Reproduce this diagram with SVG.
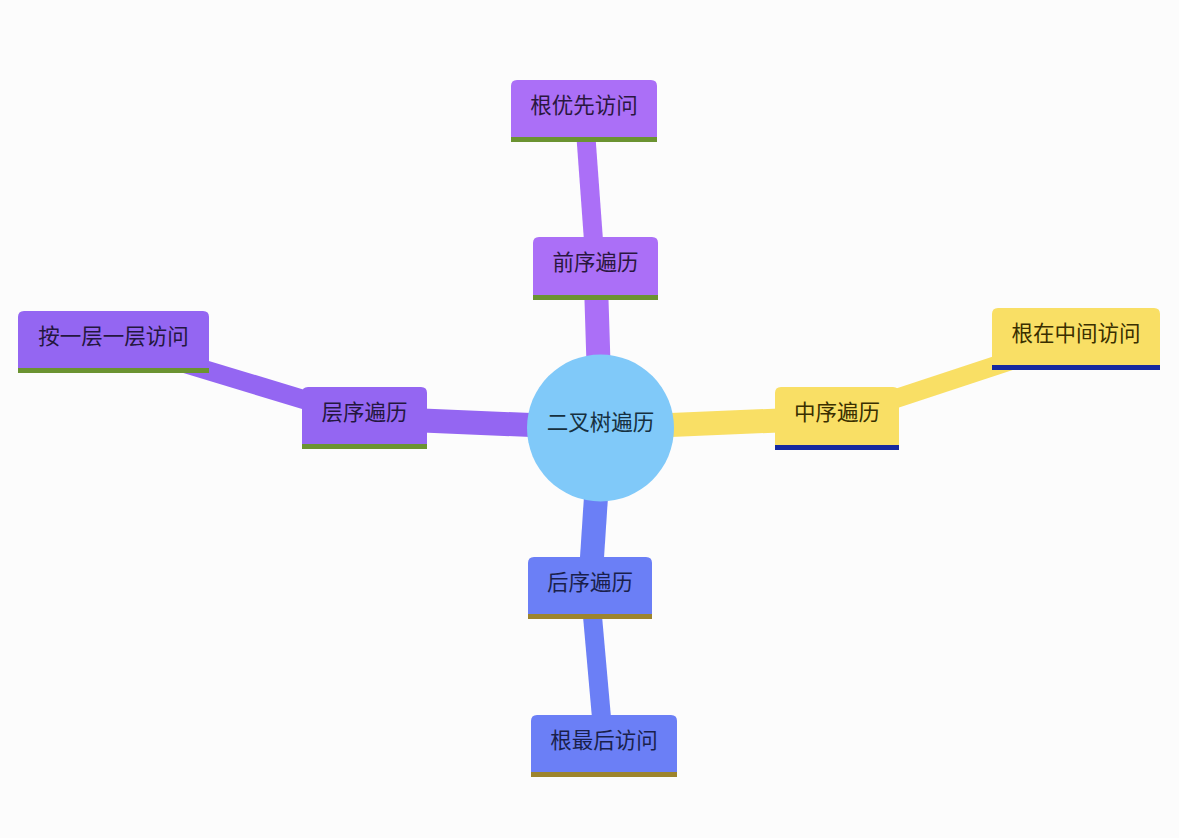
<svg xmlns="http://www.w3.org/2000/svg" width="1179" height="838" viewBox="0 0 1179 838">
<style>
.t{font-family:"Noto Sans CJK SC","Noto Sans",sans-serif;font-size:21.5px;text-anchor:middle}
.e{fill:none;stroke-linecap:butt}
.e1{stroke-width:24}
.e2{stroke-width:19}
.pA{fill:#ab6ff7}.sA{stroke:#ab6ff7}
.pB{fill:#9466f2}.sB{stroke:#9466f2}
.pC{fill:#f9df65}.sC{stroke:#f9df65}
.pD{fill:#6b7ff6}.sD{stroke:#6b7ff6}
.lA{fill:#6b9331}.lC{fill:#16299f}.lD{fill:#9d842d}
.tA{fill:#2a1740}.tB{fill:#24173f}.tC{fill:#3a2f00}.tD{fill:#1a1f4c}
</style>
<rect width="1179" height="838" fill="#fcfcfc"/>
<g id="connectors">
<line class="e e1 sA" x1="600.5" y1="428" x2="595.5" y2="268"/>
<line class="e e2 sA" x1="595.5" y1="268" x2="584" y2="110"/>
<line class="e e1 sB" x1="600.5" y1="428" x2="364.5" y2="418"/>
<line class="e e2 sB" x1="364.5" y1="418" x2="113.5" y2="342"/>
<line class="e e1 sC" x1="600.5" y1="428" x2="837" y2="418"/>
<line class="e e2 sC" x1="837" y1="418" x2="1076" y2="339"/>
<line class="e e1 sD" x1="600.5" y1="428" x2="590" y2="588"/>
<line class="e e2 sD" x1="590" y1="588" x2="604" y2="746"/>
</g>
<g id="root">
<circle cx="600.5" cy="428" r="73.5" fill="#80c9f9"/>
<text class="t" x="600.5" y="430" fill="#16303f">二叉树遍历</text>
</g>
<g id="n-preorder">
<path class="pA" d="M533 295V243q0-6 6-6H652q6 0 6 6V295Z"/>
<rect class="lA" x="533" y="295" width="125" height="5"/>
<text class="t tA" x="595.5" y="270">前序遍历</text>
</g>
<g id="n-preorder-desc">
<path class="pA" d="M511 137V86q0-6 6-6H651q6 0 6 6V137Z"/>
<rect class="lA" x="511" y="137" width="146" height="5"/>
<text class="t tA" x="584" y="113">根优先访问</text>
</g>
<g id="n-level">
<path class="pB" d="M302 444V393q0-6 6-6H421q6 0 6 6V444Z"/>
<rect class="lA" x="302" y="444" width="125" height="5"/>
<text class="t tB" x="364.5" y="420">层序遍历</text>
</g>
<g id="n-level-desc">
<path class="pB" d="M18 368V317q0-6 6-6H203q6 0 6 6V368Z"/>
<rect class="lA" x="18" y="368" width="191" height="5"/>
<text class="t tB" x="113.5" y="344">按一层一层访问</text>
</g>
<g id="n-inorder">
<path class="pC" d="M775 445V393q0-6 6-6H893q6 0 6 6V445Z"/>
<rect class="lC" x="775" y="445" width="124" height="5"/>
<text class="t tC" x="837" y="420">中序遍历</text>
</g>
<g id="n-inorder-desc">
<path class="pC" d="M992 365V314q0-6 6-6H1154q6 0 6 6V365Z"/>
<rect class="lC" x="992" y="365" width="168" height="5"/>
<text class="t tC" x="1076" y="341">根在中间访问</text>
</g>
<g id="n-postorder">
<path class="pD" d="M528 614V563q0-6 6-6H646q6 0 6 6V614Z"/>
<rect class="lD" x="528" y="614" width="124" height="5"/>
<text class="t tD" x="590" y="590">后序遍历</text>
</g>
<g id="n-postorder-desc">
<path class="pD" d="M531 772V721q0-6 6-6H671q6 0 6 6V772Z"/>
<rect class="lD" x="531" y="772" width="146" height="5"/>
<text class="t tD" x="604" y="748">根最后访问</text>
</g>
</svg>
